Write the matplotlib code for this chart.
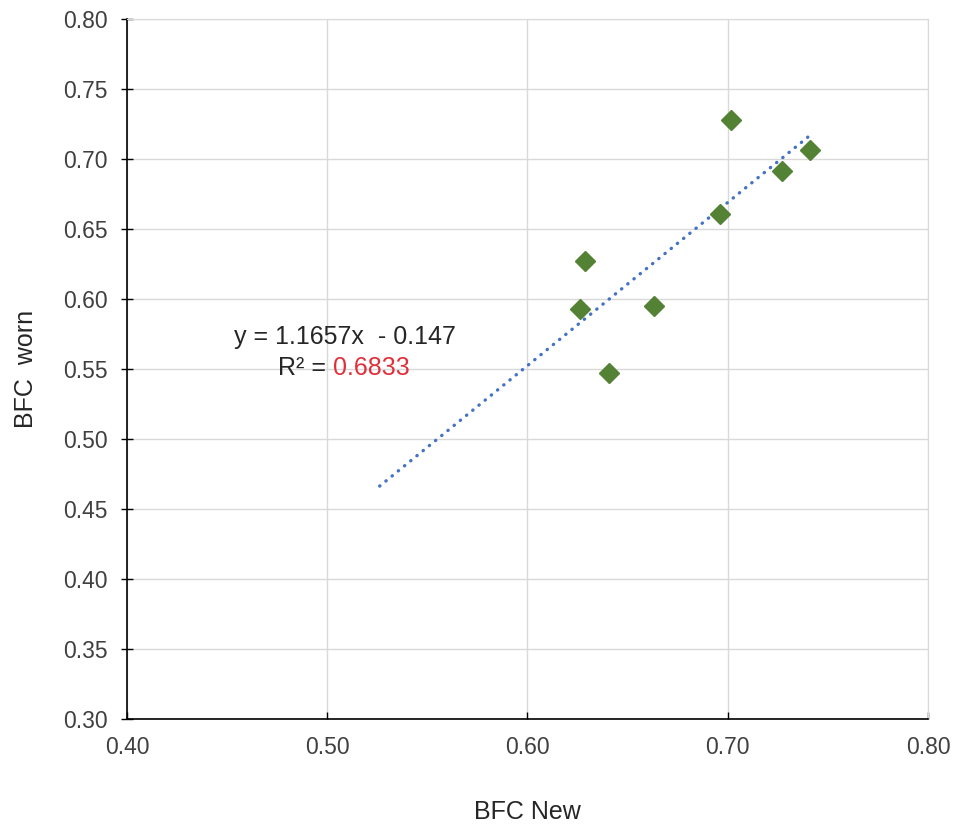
import numpy as np
from matplotlib import pyplot as plt

plt.rcParams['font.family'] = ['Liberation Sans', 'DejaVu Sans']

# measured values (BFC new vs BFC worn)
bfc_new = [0.7016, 0.7410, 0.7271, 0.6961, 0.6287, 0.6262, 0.6632, 0.6407]
bfc_worn = [0.7279, 0.7064, 0.6914, 0.6607, 0.6271, 0.5929, 0.5950, 0.5471]

# linear trendline as reported (backward forecast 0.1)
slope = 1.1657
intercept = -0.147
backcast = 0.1

x_ticks = [0.40, 0.50, 0.60, 0.70, 0.80]
y_ticks = [0.30, 0.35, 0.40, 0.45, 0.50, 0.55, 0.60, 0.65, 0.70, 0.75, 0.80]

fig = plt.figure(figsize=(9.56, 8.26), dpi=100)
ax = fig.add_axes([0.1328, 0.1295, 0.8379, 0.8475])

ax.set_xlim(0.40, 0.80)
ax.set_ylim(0.30, 0.80)
ax.set_xticks(x_ticks)
ax.set_yticks(y_ticks)
ax.set_xticklabels(['%.2f' % v for v in x_ticks])
ax.set_yticklabels(['%.2f' % v for v in y_ticks])
ax.grid(True, color='#d9d9d9', linewidth=1)
ax.set_axisbelow(True)

for side in ['top', 'right']:
    ax.spines[side].set_color('#d9d9d9')
for side in ['left', 'bottom']:
    ax.spines[side].set_color('#000000')
    ax.spines[side].set_linewidth(1.2)

ax.tick_params(direction='in', length=5, width=1, labelsize=16.5, colors='#000000',
               labelcolor='#404040', pad=12)
ax.tick_params(axis='y', direction='inout', length=8, pad=10)

# trendline
xt = np.array([min(bfc_new) - backcast, max(bfc_new)])
ax.plot(xt, slope * xt + intercept, color='#4472c4', linewidth=2.4,
        linestyle=(0, (0.1, 2.3)), dash_capstyle='round', zorder=2)

ax.plot(bfc_new, bfc_worn, linestyle='none', marker='D', markersize=10.5,
        color='#548235', zorder=3)

ax.text(0.5089, 0.5729, 'y = 1.1657x  - 0.147', fontsize=18, color='#262626',
        ha='center', va='center')
r2 = ax.text(0.5029, 0.5507, 'R² = ', fontsize=18, color='#262626',
             ha='right', va='center')
ax.annotate('0.6833', xy=(1, 0), xycoords=r2, va='bottom', ha='left',
            fontsize=18, color='#e0303a')

ax.set_xlabel('BFC New', fontsize=18, color='#262626', labelpad=30)
ax.set_ylabel('BFC  worn', fontsize=18, color='#262626', labelpad=18)

fig.savefig('out.png', dpi=100)
